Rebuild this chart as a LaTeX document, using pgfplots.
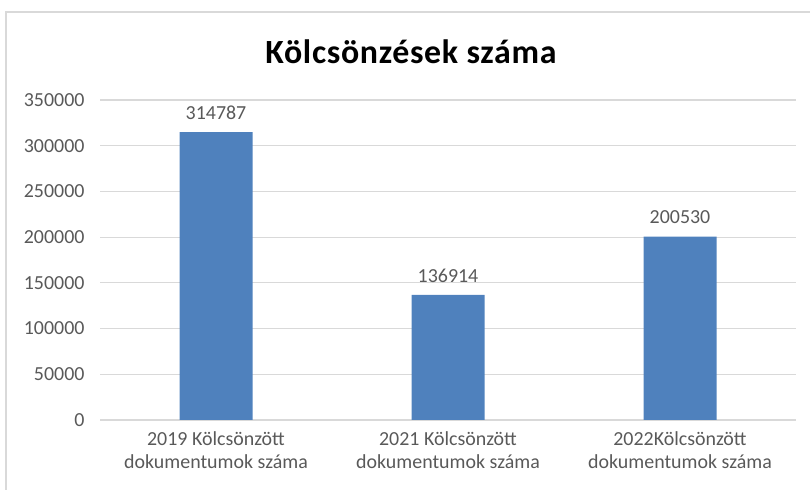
\documentclass[border=0pt]{standalone}
\usepackage{pgfplots}
\pgfplotsset{compat=1.18}
\usepackage{fontspec}
\setmainfont{Carlito}
\definecolor{barblue}{HTML}{4F81BD}
\definecolor{txtgray}{HTML}{595959}
\definecolor{gridgray}{HTML}{D9D9D9}
\begin{document}
\begin{tikzpicture}[x=1bp,y=1bp]
\useasboundingbox (0,0) rectangle (810,490);
\draw[gridgray, line width=1.5bp] (6,-10) rectangle (820,478);
\node[font=\bfseries\fontsize{34}{34}\selectfont\addfontfeature{LetterSpace=2}] at (411,438) {Kölcsönzések száma};
\begin{axis}[
  at={(100bp,70bp)}, anchor=south west,
  scale only axis, width=696bp, height=320bp,
  xmin=-0.5, xmax=2.5, ymin=0, ymax=350000,
  scaled y ticks=false,
  ytick={0,50000,100000,150000,200000,250000,300000,350000},
  yticklabels={0,50000,100000,150000,200000,250000,300000,350000},
  xtick={0,1,2},
  xticklabels={{2019 Kölcsönzött\\dokumentumok száma},{2021 Kölcsönzött\\dokumentumok száma},{2022Kölcsönzött\\dokumentumok száma}},
  x tick label style={align=center, font=\fontsize{20}{23}\selectfont, text=txtgray, yshift=-8bp},
  y tick label style={font=\fontsize{20}{24}\selectfont, text=txtgray, xshift=-12bp},
  ymajorgrids, grid style={gridgray, line width=1.2bp},
  axis x line*=bottom, axis y line*=left,
  x axis line style={gridgray, line width=1.2bp},
  y axis line style={draw=none},
  major tick length=0pt,
  tick style={draw=none},
  ybar, bar width=73bp,
  point meta=explicit symbolic,
  nodes near coords,
  every node near coord/.append style={font=\fontsize{20}{24}\selectfont, text=txtgray, yshift=9bp},
]
\addplot[fill=barblue, draw=none] coordinates {(0,314787) [314787] (1,136914) [136914] (2,200530) [200530]};
\end{axis}
\end{tikzpicture}
\end{document}
